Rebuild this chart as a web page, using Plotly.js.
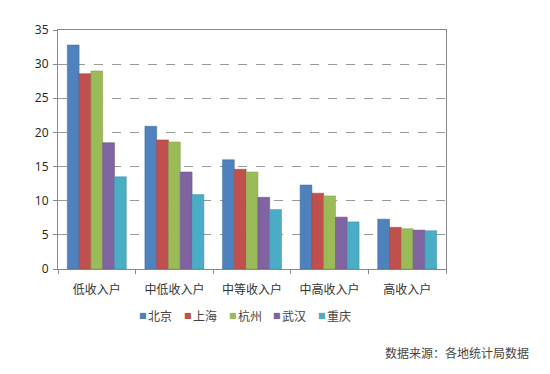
<!DOCTYPE html>
<html><head><meta charset="utf-8">
<script src="https://cdn.plot.ly/plotly-3.0.1.min.js"></script>
<style>html,body{margin:0;padding:0;background:#fff;}#c{width:550px;height:374px;}</style>
</head><body><div id="c"></div>
<script>
var categories = ["低收入户","中低收入户","中等收入户","中高收入户","高收入户"];
var cities = ["北京","上海","杭州","武汉","重庆"];
var beijing   = [32.8, 20.9, 16.0, 12.3, 7.3];
var shanghai  = [28.6, 18.9, 14.6, 11.1, 6.1];
var hangzhou  = [29.0, 18.6, 14.2, 10.7, 5.9];
var wuhan     = [18.5, 14.2, 10.5, 7.6, 5.7];
var chongqing = [13.5, 10.9, 8.7, 6.9, 5.6];
var yTicks = [0,5,10,15,20,25,30,35];
var sourceText = "数据来源：各地统计局数据";

var series = [beijing, shanghai, hangzhou, wuhan, chongqing];
var colors = ["#4F81BD","#C0504D","#9BBB59","#8064A2","#4BACC6"];
var lines = ["#3d6a9e","#9e3d3a","#7f9a47","#674f86","#3a8ea5"];
var cjk = "'Noto Sans CJK SC', sans-serif";
var traces = series.map(function(v,i){
  return {type:"bar", name:cities[i], x:categories, y:v, showlegend:false,
    marker:{color:colors[i], line:{color:lines[i], width:0.5}}};
});

// plot area in pixels
var L=58, R=446, T=30, B=269;
function px(x){return (x-L)/(R-L);}
function py(y){return (B-y)/(B-T);}
var anns = [];
var legX = 137, legStep = 44.8, legY = 315;
cities.forEach(function(c,i){
  var x0 = legX + i*legStep;
  anns.push({text:"■", xref:"paper", yref:"paper", x:px(x0), xanchor:"left", y:py(legY), yanchor:"middle",
    showarrow:false, font:{family:"'DejaVu Sans', sans-serif", size:8, color:colors[i]}});
  anns.push({text:c, xref:"paper", yref:"paper", x:px(x0+9), xanchor:"left", y:py(legY), yanchor:"middle",
    showarrow:false, font:{family:cjk, size:12, color:"#444"}});
});
anns.push({text:sourceText, xref:"paper", yref:"paper", x:px(531), xanchor:"right",
  y:py(352), yanchor:"middle", showarrow:false, font:{family:cjk, size:12, color:"#444"}});

var layout = {
  width:550, height:374,
  margin:{l:L, r:550-R, t:T, b:374-B},
  paper_bgcolor:"#fff", plot_bgcolor:"#fff",
  barmode:"group", bargap:0.24, bargroupgap:0,
  showlegend:false,
  xaxis:{type:"category", tickson:"boundaries", ticks:"outside", ticklen:4, tickcolor:"#888",
    showline:true, linecolor:"#888", linewidth:1, mirror:true, showgrid:false,
    ticklabelstandoff:10,
    tickfont:{family:cjk, size:12, color:"#333"}, automargin:false},
  yaxis:{range:[0,35], tickvals:yTicks, ticks:"outside", ticklen:4, tickcolor:"#888",
    showline:true, linecolor:"#888", linewidth:1, mirror:true,
    showgrid:true, gridcolor:"#999", griddash:"dash", gridwidth:1, zeroline:false,
    ticklabelstandoff:2,
    tickfont:{family:"'Open Sans', sans-serif", size:12, color:"#222"}, automargin:false},
  annotations:anns
};
Plotly.newPlot("c", traces, layout, {displayModeBar:false, staticPlot:true});
</script></body></html>
